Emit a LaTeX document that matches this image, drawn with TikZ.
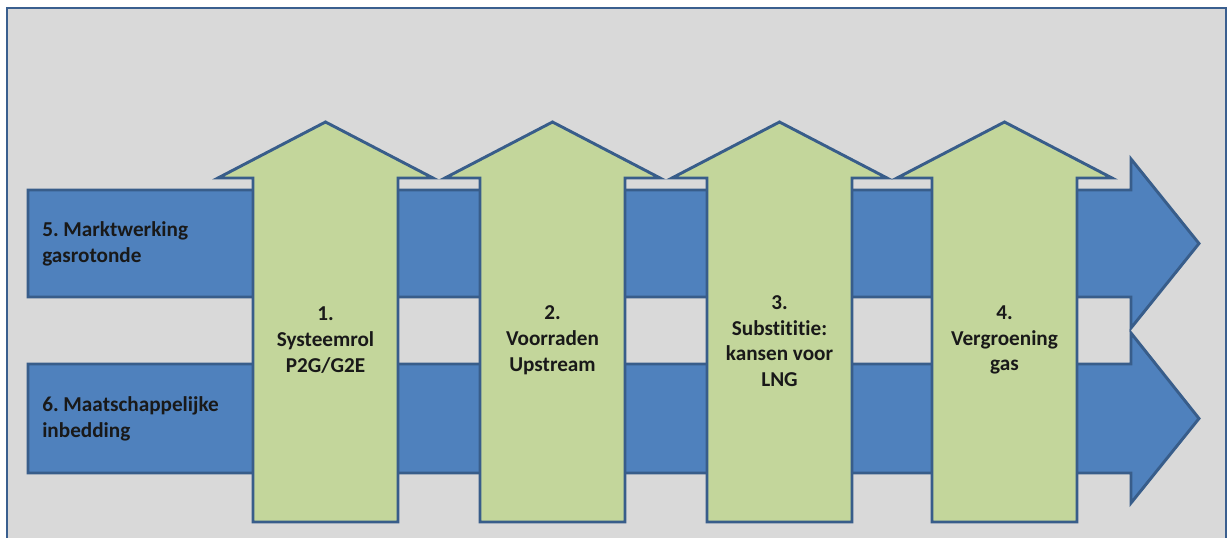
\documentclass[tikz,border=0pt]{standalone}
\usepackage{fontspec}
\setmainfont{Carlito}[Ligatures=NoCommon]
\frenchspacing
\begin{document}
\begin{tikzpicture}[x=0.75pt,y=-0.75pt,
  frame/.style={draw=frameblue,line width=1.6pt,fill=bggray},
  bluearrow/.style={draw=edgeblue,line width=2.2pt,fill=fillblue,line join=miter},
  greenarrow/.style={draw=edgeblue,line width=2.2pt,fill=fillgreen,line join=miter},
  bluetext/.style={anchor=west,align=left,font=\bfseries\fontsize{15.9}{19.3}\selectfont,text=black!90,inner sep=0pt},
  greentext/.style={anchor=center,align=center,font=\bfseries\fontsize{15.9}{19.3}\selectfont,text=black!90,inner sep=0pt}]
\definecolor{bggray}{HTML}{D9D9D9}
\definecolor{frameblue}{HTML}{3A5F8F}
\definecolor{edgeblue}{HTML}{385D8A}
\definecolor{fillblue}{HTML}{4F81BD}
\definecolor{fillgreen}{HTML}{C3D69B}
\useasboundingbox (0,0) rectangle (1228,538);
\fill[white] (0,0) rectangle (1228,538);
\begin{scope}
\clip (0,0) rectangle (1228,538);
\draw[frame] (7,8) rectangle (1226,560);
\end{scope}
% blue horizontal arrows
\draw[bluearrow] (28,190) -- (1131,190) -- (1131,159) -- (1199,243.5) -- (1131,328) -- (1131,297) -- (28,297) -- cycle;
\draw[bluearrow] (28,364) -- (1131,364) -- (1131,333) -- (1199,418.5) -- (1131,503) -- (1131,473) -- (28,473) -- cycle;
% green vertical arrows
\foreach \x in {253,480,707,932}{
  \draw[greenarrow] (\x,522) -- (\x,178) -- (\x-35,178) -- (\x+72.5,122) -- (\x+180,178) -- (\x+145,178) -- (\x+145,522) -- cycle;
}
\node[bluetext] (t5) at (42,244) {5. Marktwerking\\gasrotonde};
\node[bluetext] (t6) at (42,419) {6. Maatschappelijke\\inbedding};
\node[greentext] (t1) at (325.5,340) {1.\\Systeemrol\\P2G/G2E};
\node[greentext] (t2) at (552.5,340) {2.\\Voorraden\\Upstream};
\node[greentext] (t3) at (779.5,341) {3.\\Substititie:\\kansen voor\\LNG};
\node[greentext] (t4) at (1004.5,340) {4.\\Vergroening\\gas};
\end{tikzpicture}
\end{document}
